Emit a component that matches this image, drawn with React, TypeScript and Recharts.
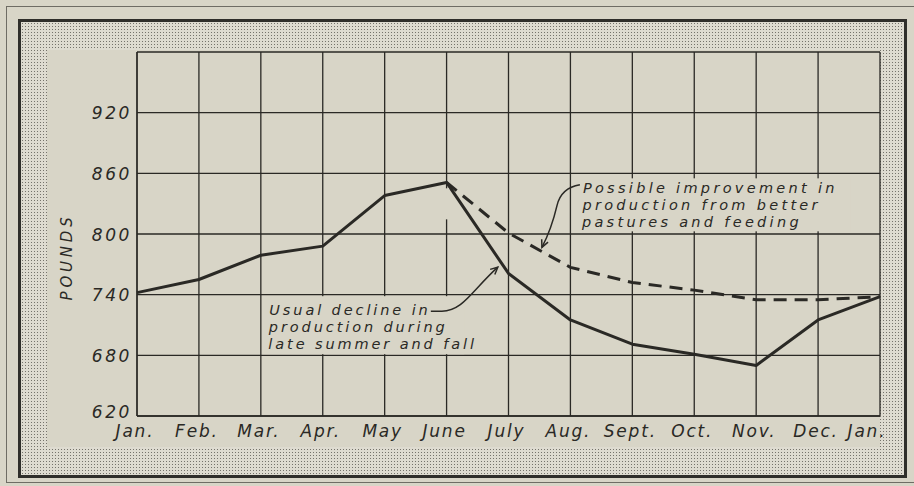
import React from 'react';
import { LineChart, Line, XAxis, YAxis, CartesianGrid, ReferenceDot } from 'recharts';

const months = ['Jan.', 'Feb.', 'Mar.', 'Apr.', 'May', 'June', 'July', 'Aug.', 'Sept.', 'Oct.', 'Nov.', 'Dec.', 'Jan.'];
const usualDecline = [742, 755, 779, 788, 838, 851, 761, 715, 691, 681, 670, 715, 738];
const possibleImprovement = [null, null, null, null, null, 851, 801, 767, 752, 744.5, 735, 735, 738];
const yTicks = [620, 680, 740, 800, 860, 920, 980];
const xTicks = months.map((_, i) => i);
const yLabel = 'POUNDS';
const noteUsual = ['Usual decline in', 'production during', 'late summer and fall'];
const notePossible = ['Possible improvement in', 'production from better', 'pastures and feeding'];

const data = months.map((m, i) => ({ idx: i, month: m, usual: usualDecline[i], improved: possibleImprovement[i] }));

const PAPER = '#d8d5c7';
const INK = '#2a2925';
const FONT = '"DejaVu Sans", Verdana, sans-serif';
const NOTE_SIZE = 14.5;
const NOTE_LEAD = 17;

const textStyle: React.CSSProperties = { fontFamily: FONT, fontStyle: 'italic' };

const XTick = (props: any) => {
  const { x, y, payload } = props;
  const last = payload.value === months.length - 1;
  return (
    <text x={x + (last ? -13 : -2)} y={y + 21} textAnchor="middle" fill={INK} fontSize={17}
      style={{ ...textStyle, letterSpacing: '1.8px' }}>
      {months[payload.value]}
    </text>
  );
};

const YTick = (props: any) => {
  const { x, y, payload } = props;
  if (payload.value === 980) return null;
  const lift = payload.value === 620 ? -5 : 0;
  return (
    <text x={x - 5} y={y + 6.5 + lift} textAnchor="end" fill={INK} fontSize={17}
      style={{ ...textStyle, letterSpacing: '2.6px' }}>
      {payload.value}
    </text>
  );
};

const YLabel = (props: any) => {
  const vb = props.viewBox || { x: 0, y: 52, width: 137, height: 364 };
  const cx = vb.x + 72;
  const cy = vb.y + 205;
  return (
    <text x={cx} y={cy} textAnchor="middle" fill={INK} fontSize={15}
      transform={`rotate(-90, ${cx}, ${cy})`}
      style={{ ...textStyle, letterSpacing: '3.8px' }}>
      {yLabel}
    </text>
  );
};

const arrowHead = (tx: number, ty: number, fx: number, fy: number) => {
  const ang = Math.atan2(ty - fy, tx - fx);
  const len = 8;
  const a1 = ang + Math.PI - 0.45;
  const a2 = ang + Math.PI + 0.45;
  return `M ${tx + len * Math.cos(a1)} ${ty + len * Math.sin(a1)} L ${tx} ${ty} L ${tx + len * Math.cos(a2)} ${ty + len * Math.sin(a2)}`;
};

const UsualNote = (props: any) => {
  const { cx, cy } = props;
  if (cx == null || cy == null) return null;
  return (
    <g>
      <rect x={cx + 1.5} y={cy + 1.5} width={202} height={58} fill={PAPER} />
      <text x={cx + 8.5} y={cy + 20} fill={INK} fontSize={NOTE_SIZE} style={{ ...textStyle, letterSpacing: '2.9px' }}>
        {noteUsual.map((t, i) => (
          <tspan key={i} x={cx + 8.5 - i * 0.5} dy={i === 0 ? 0 : NOTE_LEAD}>{t}</tspan>
        ))}
      </text>
      <path d={`M ${cx + 170} ${cy + 16.5} L ${cx + 181} ${cy + 16.5} C ${cx + 202} ${cy + 16.5}, ${cx + 211} ${cy - 4}, ${cx + 237} ${cy - 27.5}`}
        fill="none" stroke={INK} strokeWidth={1.5} />
      <path d={arrowHead(cx + 237, cy - 27.5, cx + 222, cy - 14)} fill="none" stroke={INK} strokeWidth={1.5} />
    </g>
  );
};

const PossibleNote = (props: any) => {
  const { cx, cy } = props;
  if (cx == null || cy == null) return null;
  return (
    <g>
      <rect x={cx + 4} y={cy + 5} width={276} height={53} fill={PAPER} />
      <text x={cx + 12.5} y={cy + 19.5} fill={INK} fontSize={NOTE_SIZE} style={{ ...textStyle, letterSpacing: '3.3px' }}>
        {notePossible.map((t, i) => (
          <tspan key={i} x={cx + 12.5 - i * 0.5} dy={i === 0 ? 0 : NOTE_LEAD}>{t}</tspan>
        ))}
      </text>
      <path d={`M ${cx + 9.5} ${cy + 11.5} C ${cx - 2.5} ${cy + 13.5}, ${cx - 10.5} ${cy + 19.5}, ${cx - 13.5} ${cy + 32.5} C ${cx - 17.5} ${cy + 49.5}, ${cx - 22.5} ${cy + 62.5}, ${cx - 28.5} ${cy + 74}`}
        fill="none" stroke={INK} strokeWidth={1.5} />
      <path d={arrowHead(cx - 28.5, cy + 74, cx - 24, cy + 64)} fill="none" stroke={INK} strokeWidth={1.5} />
    </g>
  );
};

// small erased patch of the June rule below the peak, as in the original drawing
const PeakGap = (props: any) => {
  const { cx, cy } = props;
  if (cx == null || cy == null) return null;
  return <rect x={cx - 2.5} y={cy + 15} width={5} height={31} fill={PAPER} />;
};

export default function App() {
  return (
    <div style={{ position: 'absolute', left: 0, top: 0, width: 914, height: 486, background: PAPER, overflow: 'hidden' }}>
      {/* outer thin rule */}
      <div style={{ position: 'absolute', left: 6, top: 6, width: 914, height: 477, border: '1px solid #6e6c64', boxSizing: 'border-box' }} />
      {/* thick frame with stippled band */}
      <div style={{
        position: 'absolute', left: 18, top: 19, width: 889, height: 459,
        border: '3px solid #2f2e2a', boxSizing: 'border-box',
        backgroundColor: '#dedbd0',
        backgroundImage: 'radial-gradient(circle, #75736b 0.5px, rgba(0,0,0,0) 0.9px)',
        backgroundSize: '3px 3px',
      }} />
      {/* inner paper area */}
      <div style={{ position: 'absolute', left: 47, top: 50, width: 833, height: 397, background: PAPER }} />
      <div style={{ position: 'absolute', left: 0, top: 0 }}>
        <LineChart width={914} height={486} data={data} margin={{ top: 52, right: 34, bottom: 0, left: 0 }}>
          <CartesianGrid stroke={INK} strokeWidth={1.3} fill="none" />
          <XAxis dataKey="idx" type="number" domain={[0, 12]} ticks={xTicks} interval={0}
            tickLine={false} tickSize={0} tickMargin={0} height={70}
            axisLine={{ stroke: INK, strokeWidth: 1.3 }} tick={<XTick />} />
          <YAxis type="number" domain={[620, 980]} ticks={yTicks} interval={0}
            tickLine={false} tickSize={0} tickMargin={0} width={137}
            axisLine={{ stroke: INK, strokeWidth: 1.3 }} tick={<YTick />}
            label={{ content: <YLabel /> }} />
          <ReferenceDot x={5} y={860} r={0} shape={(p: any) => <PeakGap {...p} />} />
          <ReferenceDot x={2} y={740} r={0} shape={(p: any) => <UsualNote {...p} />} />
          <ReferenceDot x={7} y={860} r={0} shape={(p: any) => <PossibleNote {...p} />} />
          <Line type="linear" dataKey="improved" stroke={INK} strokeWidth={3} strokeDasharray="13 8"
            dot={false} activeDot={false} isAnimationActive={false} connectNulls={false} />
          <Line type="linear" dataKey="usual" stroke={INK} strokeWidth={3}
            dot={false} activeDot={false} isAnimationActive={false} strokeLinejoin="round" />
        </LineChart>
      </div>
    </div>
  );
}
